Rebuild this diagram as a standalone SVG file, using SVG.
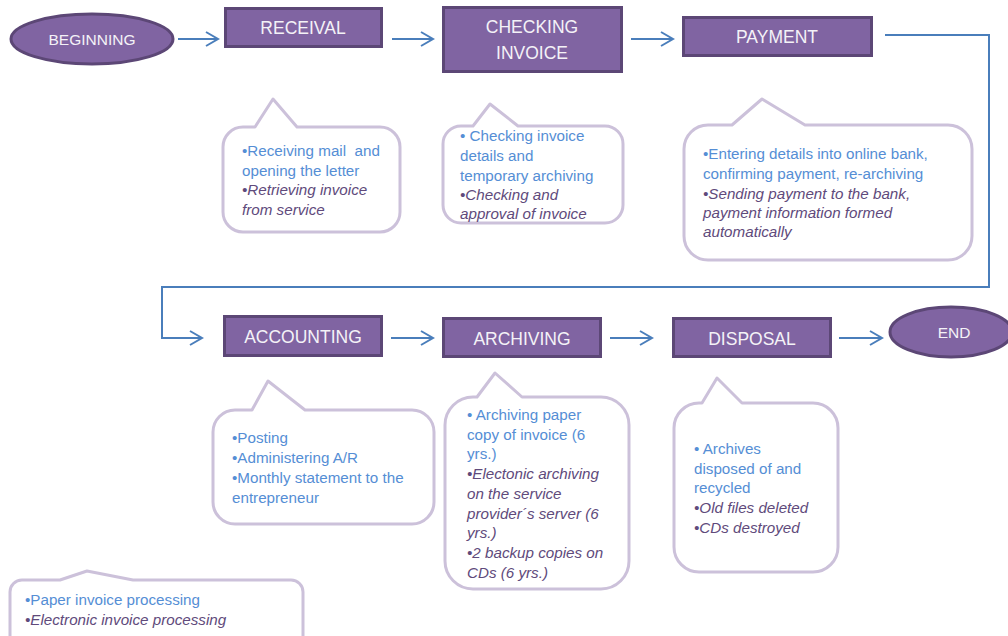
<svg xmlns="http://www.w3.org/2000/svg" width="1008" height="636" viewBox="0 0 1008 636">
<style>
.box{fill:#8064a2;stroke:#5c4776;stroke-width:3}
.term{fill:#8064a2;stroke:#5c4776;stroke-width:3}
.title{font-family:"Liberation Sans",Arial,sans-serif;font-size:17.5px;fill:#f4f2f7;text-anchor:middle}
.tsmall{font-family:"Liberation Sans",Arial,sans-serif;font-size:15.5px;fill:#f4f2f7;text-anchor:middle}
.bub{fill:#ffffff;stroke:#ccc1da;stroke-width:3;stroke-linejoin:round}
.txt{font-family:"Liberation Sans",Arial,sans-serif;font-size:15.2px}
.b{fill:#558ed5}
.p{fill:#604a7b;font-style:italic}
.con{fill:none;stroke:#4a7ebb;stroke-width:2}
</style>
<defs>
<marker id="arr" markerUnits="userSpaceOnUse" markerWidth="16" markerHeight="18" refX="13" refY="8" orient="auto">
<path d="M1,1 L13,8 L1,15" fill="none" stroke="#4a7ebb" stroke-width="2"/>
</marker>
</defs>

<g id="connectors">
<line class="con" x1="178" y1="39" x2="218" y2="39" marker-end="url(#arr)"/>
<line class="con" x1="392" y1="39" x2="433" y2="39" marker-end="url(#arr)"/>
<line class="con" x1="631" y1="39" x2="673" y2="39" marker-end="url(#arr)"/>
<path class="con" d="M885,35 H989 V287 H162 V338 H202" marker-end="url(#arr)"/>
<line class="con" x1="391" y1="338" x2="433" y2="338" marker-end="url(#arr)"/>
<line class="con" x1="610" y1="338" x2="652" y2="338" marker-end="url(#arr)"/>
<line class="con" x1="839" y1="338" x2="882" y2="338" marker-end="url(#arr)"/>
</g>

<g id="beginning">
<ellipse class="term" cx="92" cy="39" rx="81" ry="25"/>
<text class="tsmall" x="92" y="45">BEGINNING</text>
</g>

<g id="receival">
<rect class="box" x="225.5" y="8.5" width="156" height="38"/>
<text class="title" x="303" y="34">RECEIVAL</text>
</g>

<g id="checking-invoice">
<rect class="box" x="443.5" y="7.5" width="178" height="64"/>
<text class="title" x="532" y="33">CHECKING</text>
<text class="title" x="532" y="59">INVOICE</text>
</g>

<g id="payment">
<rect class="box" x="683.5" y="17.5" width="188" height="38"/>
<text class="title" x="777" y="43">PAYMENT</text>
</g>

<g id="accounting">
<rect class="box" x="224.5" y="316.5" width="157" height="39"/>
<text class="title" x="303" y="343">ACCOUNTING</text>
</g>

<g id="archiving">
<rect class="box" x="443.5" y="318.5" width="157" height="38"/>
<text class="title" x="522" y="345">ARCHIVING</text>
</g>

<g id="disposal">
<rect class="box" x="673.5" y="318.5" width="157" height="38"/>
<text class="title" x="752" y="345">DISPOSAL</text>
</g>

<g id="end">
<ellipse class="term" cx="951" cy="332" rx="61" ry="25"/>
<text class="tsmall" x="954" y="338">END</text>
</g>

<g id="receival-note">
<path class="bub" d="M243,127 H255 L273,99 L297,127 H380 A20,20 0 0 1 400,147 V212 A20,20 0 0 1 380,232 H243 A20,20 0 0 1 223,212 V147 A20,20 0 0 1 243,127 Z"/>
<text class="txt" x="242"><tspan class="b" y="156">•Receiving mail &#160;and</tspan><tspan class="b" x="242" y="176">opening the letter</tspan><tspan class="p" x="242" y="195">•Retrieving invoice</tspan><tspan class="p" x="242" y="215">from service</tspan></text>
</g>

<g id="checking-note">
<path class="bub" d="M461,126 H473 L490,104 L518,126 H605 A18,18 0 0 1 623,144 V205 A18,18 0 0 1 605,223 H461 A18,18 0 0 1 443,205 V144 A18,18 0 0 1 461,126 Z"/>
<text class="txt" x="460"><tspan class="b" y="141">• Checking invoice</tspan><tspan class="b" x="460" y="161">details and</tspan><tspan class="b" x="460" y="181">temporary archiving</tspan><tspan class="p" x="460" y="200">•Checking and</tspan><tspan class="p" x="460" y="219">approval of invoice</tspan></text>
</g>

<g id="payment-note">
<path class="bub" d="M708,125 H732 L762,99 L805,125 H948 A24,24 0 0 1 972,149 V236 A24,24 0 0 1 948,260 H708 A24,24 0 0 1 684,236 V149 A24,24 0 0 1 708,125 Z"/>
<text class="txt" x="703"><tspan class="b" y="159">•Entering details into online bank,</tspan><tspan class="b" x="703" y="179">confirming payment, re-archiving</tspan><tspan class="p" x="703" y="199">•Sending payment to the bank,</tspan><tspan class="p" x="703" y="218">payment information formed</tspan><tspan class="p" x="703" y="237">automatically</tspan></text>
</g>

<g id="accounting-note">
<path class="bub" d="M235,410 H252 L268,381 L305,410 H412 A22,22 0 0 1 434,432 V502 A22,22 0 0 1 412,524 H235 A22,22 0 0 1 213,502 V432 A22,22 0 0 1 235,410 Z"/>
<text class="txt" x="232"><tspan class="b" y="443">•Posting</tspan><tspan class="b" x="232" y="463">•Administering A/R</tspan><tspan class="b" x="232" y="483">•Monthly statement to the</tspan><tspan class="b" x="232" y="503">entrepreneur</tspan></text>
</g>

<g id="archiving-note">
<path class="bub" d="M473,397 H477 L495,373 L522,397 H601 A28,28 0 0 1 629,425 V561 A28,28 0 0 1 601,589 H473 A28,28 0 0 1 445,561 V425 A28,28 0 0 1 473,397 Z"/>
<text class="txt" x="467"><tspan class="b" y="420">• Archiving paper</tspan><tspan class="b" x="467" y="440">copy of invoice (6</tspan><tspan class="b" x="467" y="459">yrs.)</tspan><tspan class="p" x="467" y="479">•Electonic archiving</tspan><tspan class="p" x="467" y="499">on the service</tspan><tspan class="p" x="467" y="519">provider´s server (6</tspan><tspan class="p" x="467" y="538">yrs.)</tspan><tspan class="p" x="467" y="558">•2 backup copies on</tspan><tspan class="p" x="467" y="578">CDs (6 yrs.)</tspan></text>
</g>

<g id="disposal-note">
<path class="bub" d="M699,403 H702 L717,378 L742,403 H813 A25,25 0 0 1 838,428 V547 A25,25 0 0 1 813,572 H699 A25,25 0 0 1 674,547 V428 A25,25 0 0 1 699,403 Z"/>
<text class="txt" x="694"><tspan class="b" y="454">• Archives</tspan><tspan class="b" x="694" y="474">disposed of and</tspan><tspan class="b" x="694" y="493">recycled</tspan><tspan class="p" x="694" y="513">•Old files deleted</tspan><tspan class="p" x="694" y="533">•CDs destroyed</tspan></text>
</g>

<g id="legend">
<path class="bub" d="M22,580 H60 L87,571 L133,580 H291 A12,12 0 0 1 303,592 V660 H10 V592 A12,12 0 0 1 22,580 Z"/>
<text class="txt" x="25"><tspan class="b" y="605">•Paper invoice processing</tspan><tspan class="p" x="25" y="625">•Electronic invoice processing</tspan></text>
</g>
</svg>
